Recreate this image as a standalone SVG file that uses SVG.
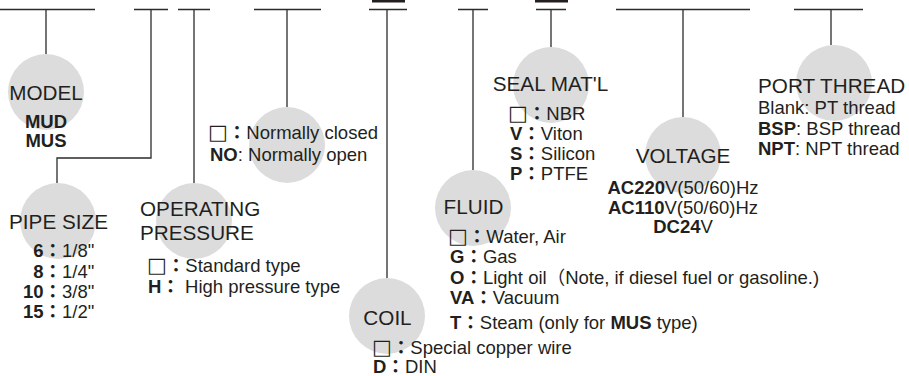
<svg xmlns="http://www.w3.org/2000/svg" width="909" height="376" viewBox="0 0 909 376">
<style>
text{font-family:"Liberation Sans","Noto Sans CJK TC",sans-serif;fill:#231f20}
.lbl{font-size:20.7px}
.ent{font-size:18.5px}
.b{font-weight:bold}
.c{text-anchor:middle}
.e{text-anchor:end}
.box{font-family:"DejaVu Sans",sans-serif;font-weight:normal;font-size:21px}
.bub{fill:#dcdcdc}
.ln{stroke:#2b2b2b;stroke-width:1.3;fill:none}
.bar{fill:#231f20}
</style>
<rect width="909" height="376" fill="#ffffff"/>
<g id="connectors">
<path class="ln" d="M0 9.5H95M134 9.5H168M178 9.5H210M254 9.5H321M369 9.5H407M458 9.5H488M536 9.5H566M616 9.5H750M794 9.5H863"/>
<rect class="bar" x="372" y="0" width="33" height="2.5"/>
<rect class="bar" x="535" y="0" width="33" height="2.5"/>
<path class="ln" d="M46 9.5V54M151 9.5V158H57V183M194 9.5V183M287 9.5V107M387 9.5V278M473 9.5V170M551 9.5V47M683 9.5V117M831 9.5V45"/>
</g>
<g id="model">
<circle class="bub" cx="46" cy="92" r="38"/>
<text class="lbl c" x="46" y="100">MODEL</text>
<text class="ent b c" x="46" y="128">MUD</text>
<text class="ent b c" x="46" y="147">MUS</text>
</g>
<g id="pipe-size">
<circle class="bub" cx="58" cy="221" r="38"/>
<text class="lbl c" x="58.5" y="229">PIPE SIZE</text>
<text class="ent b e" x="43.5" y="257">6</text>
<text class="ent" x="43.5" y="257"><tspan class="b">：</tspan>1/8"</text>
<text class="ent b e" x="43.5" y="278">8</text>
<text class="ent" x="43.5" y="278"><tspan class="b">：</tspan>1/4"</text>
<text class="ent b e" x="43.5" y="298">10</text>
<text class="ent" x="43.5" y="298"><tspan class="b">：</tspan>3/8"</text>
<text class="ent b e" x="43.5" y="318">15</text>
<text class="ent" x="43.5" y="318"><tspan class="b">：</tspan>1/2"</text>
</g>
<g id="operating-pressure">
<circle class="bub" cx="194" cy="221" r="38"/>
<text class="lbl" x="140" y="216">OPERATING</text>
<text class="lbl" x="140" y="240">PRESSURE</text>
<text class="ent" x="147" y="272"><tspan class="box">□</tspan><tspan class="b">：</tspan>Standard type</text>
<text class="ent" x="148" y="293"><tspan class="b">H：</tspan> High pressure type</text>
</g>
<g id="normally">
<circle class="bub" cx="287" cy="145" r="38"/>
<text class="ent" x="208" y="139"><tspan class="box">□</tspan><tspan class="b">：</tspan>Normally closed</text>
<text class="ent" x="210" y="161"><tspan class="b">NO</tspan>: Normally open</text>
</g>
<g id="coil">
<circle class="bub" cx="387" cy="316" r="38"/>
<text class="lbl c" x="387.5" y="325">COIL</text>
<text class="ent" x="372" y="354"><tspan class="box">□</tspan><tspan class="b">：</tspan>Special copper wire</text>
<text class="ent" x="373" y="372.5"><tspan class="b">D：</tspan>DIN</text>
</g>
<g id="fluid">
<circle class="bub" cx="473" cy="208" r="38"/>
<text class="lbl c" x="473.5" y="214">FLUID</text>
<text class="ent" x="448" y="243"><tspan class="box">□</tspan><tspan class="b">：</tspan>Water, Air</text>
<text class="ent" x="450" y="263"><tspan class="b">G：</tspan>Gas</text>
<text class="ent" x="450" y="284"><tspan class="b">O：</tspan>Light oil（Note, if diesel fuel or gasoline.)</text>
<text class="ent" x="450" y="304"><tspan class="b">VA：</tspan>Vacuum</text>
<text class="ent" x="450" y="329"><tspan class="b">T：</tspan>Steam (only for <tspan class="b">MUS</tspan> type)</text>
</g>
<g id="seal">
<circle class="bub" cx="551" cy="85" r="38"/>
<text class="lbl c" x="550.5" y="91">SEAL MAT'L</text>
<text class="ent" x="508" y="120"><tspan class="box">□</tspan><tspan class="b">：</tspan>NBR</text>
<text class="ent" x="510" y="140"><tspan class="b">V：</tspan>Viton</text>
<text class="ent" x="510" y="160"><tspan class="b">S：</tspan>Silicon</text>
<text class="ent" x="510" y="180"><tspan class="b">P：</tspan>PTFE</text>
</g>
<g id="voltage">
<circle class="bub" cx="683" cy="155" r="38"/>
<text class="lbl c" x="683" y="163">VOLTAGE</text>
<text class="ent c" x="683" y="194"><tspan class="b">AC220</tspan>V(50/60)Hz</text>
<text class="ent c" x="683" y="214"><tspan class="b">AC110</tspan>V(50/60)Hz</text>
<text class="ent c" x="683" y="233"><tspan class="b">DC24</tspan>V</text>
</g>
<g id="port-thread">
<circle class="bub" cx="834" cy="83" r="38"/>
<text class="lbl" x="758" y="93">PORT THREAD</text>
<text class="ent" x="758" y="114">Blank: PT thread</text>
<text class="ent" x="758" y="135"><tspan class="b">BSP</tspan>: BSP thread</text>
<text class="ent" x="758" y="155"><tspan class="b">NPT</tspan>: NPT thread</text>
</g>
</svg>
